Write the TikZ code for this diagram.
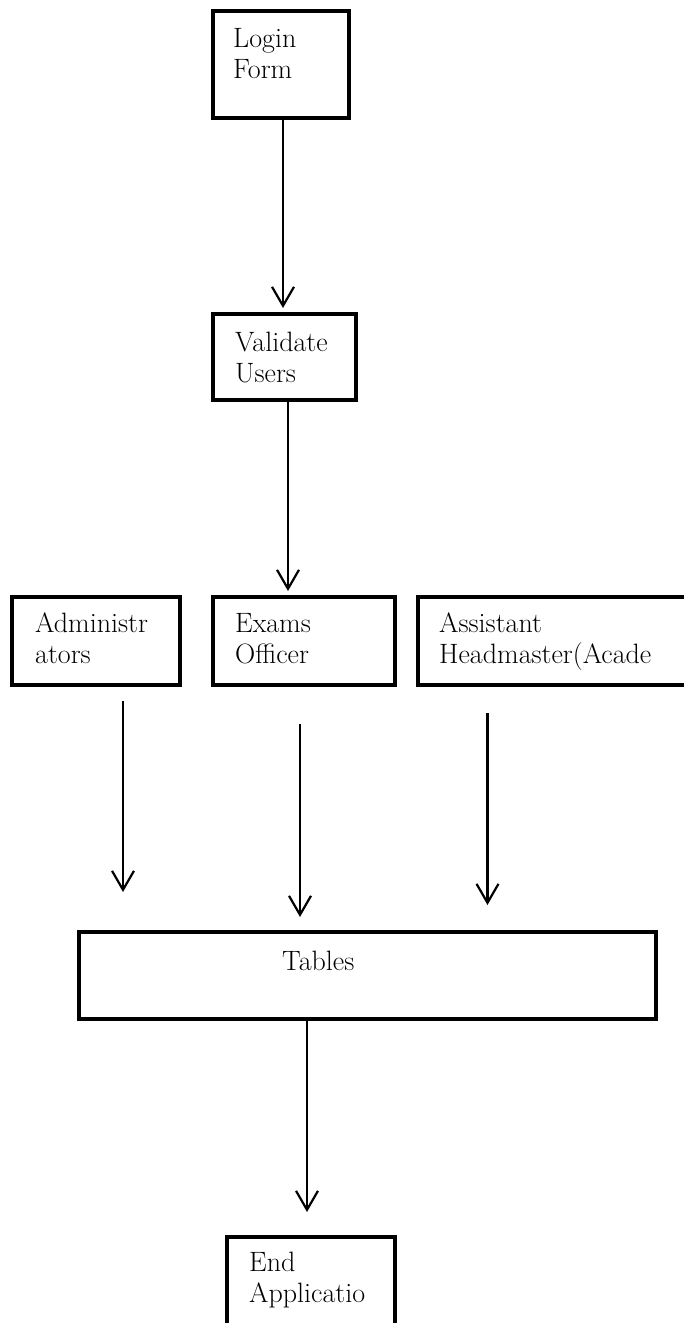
\documentclass[tikz,border=0pt]{standalone}
\usetikzlibrary{arrows.meta,calc}
\begin{document}
\begin{tikzpicture}[x=1pt,y=-1pt,
  box/.style={draw, line width=3.2pt, inner sep=0pt, outer sep=0pt, anchor=north west},
  lbl/.style={anchor=base west, align=left, inner sep=0pt, font=\fontsize{28}{31}\selectfont},
  arr/.style={line width=2.2pt, -{Straight Barb[length=19pt,width=22pt,line width=2.2pt]}}]
\useasboundingbox (0,0) rectangle (683,1323);
% boxes
\node[box, minimum width=136pt, minimum height=107pt] (login) at (213,11) {};
\node[box, minimum width=143pt, minimum height=86pt] (validate) at (213,314) {};
\node[box, minimum width=168pt, minimum height=88pt] (admin) at (12,597) {};
\node[box, minimum width=182pt, minimum height=88pt] (exams) at (213,597) {};
\node[box, minimum width=290pt, minimum height=88pt] (assist) at (418,597) {};
\node[box, minimum width=577pt, minimum height=87pt] (tables) at (79,932) {};
\node[box, minimum width=168pt, minimum height=120pt] (endapp) at (227,1237) {};
% texts (base anchor = baseline of last line)
\node[lbl] (tlogin) at (233,78) {Login\\Form};
\node[lbl] (tvalidate) at (235,382) {Validate\\Users};
\node[lbl] (tadmin) at (35,663) {Administr\\ators};
\node[lbl] (texams) at (235,663) {Exams\\Officer};
\node[lbl] (tassist) at (439,663) {Assistant\\Headmaster(Acade};
\node[lbl] (ttables) at (282,970) {Tables};
\node[lbl] (tend) at (249,1302) {End\\Applicatio};
% connectors
\draw[arr] ($(login.south)+(2,0)$) -- ($(validate.north)+(-1.5,-6)$);
\draw[arr] ($(validate.south)+(3.5,0)$) -- ($(exams.north)+(-16,-6)$);
\draw[arr] ($(admin.south)+(27,16)$) -- ($(tables.north west)+(44,-40)$);
\draw[arr] ($(exams.south)+(-4,39)$) -- ($(tables.north west)+(221,-15)$);
\draw[arr] ($(assist.south west)+(69.5,28)$) -- ($(tables.north west)+(408.5,-27)$);
\draw[arr] ($(tables.south west)+(228,0)$) -- ($(endapp.north west)+(80,-25)$);
\end{tikzpicture}
\end{document}
